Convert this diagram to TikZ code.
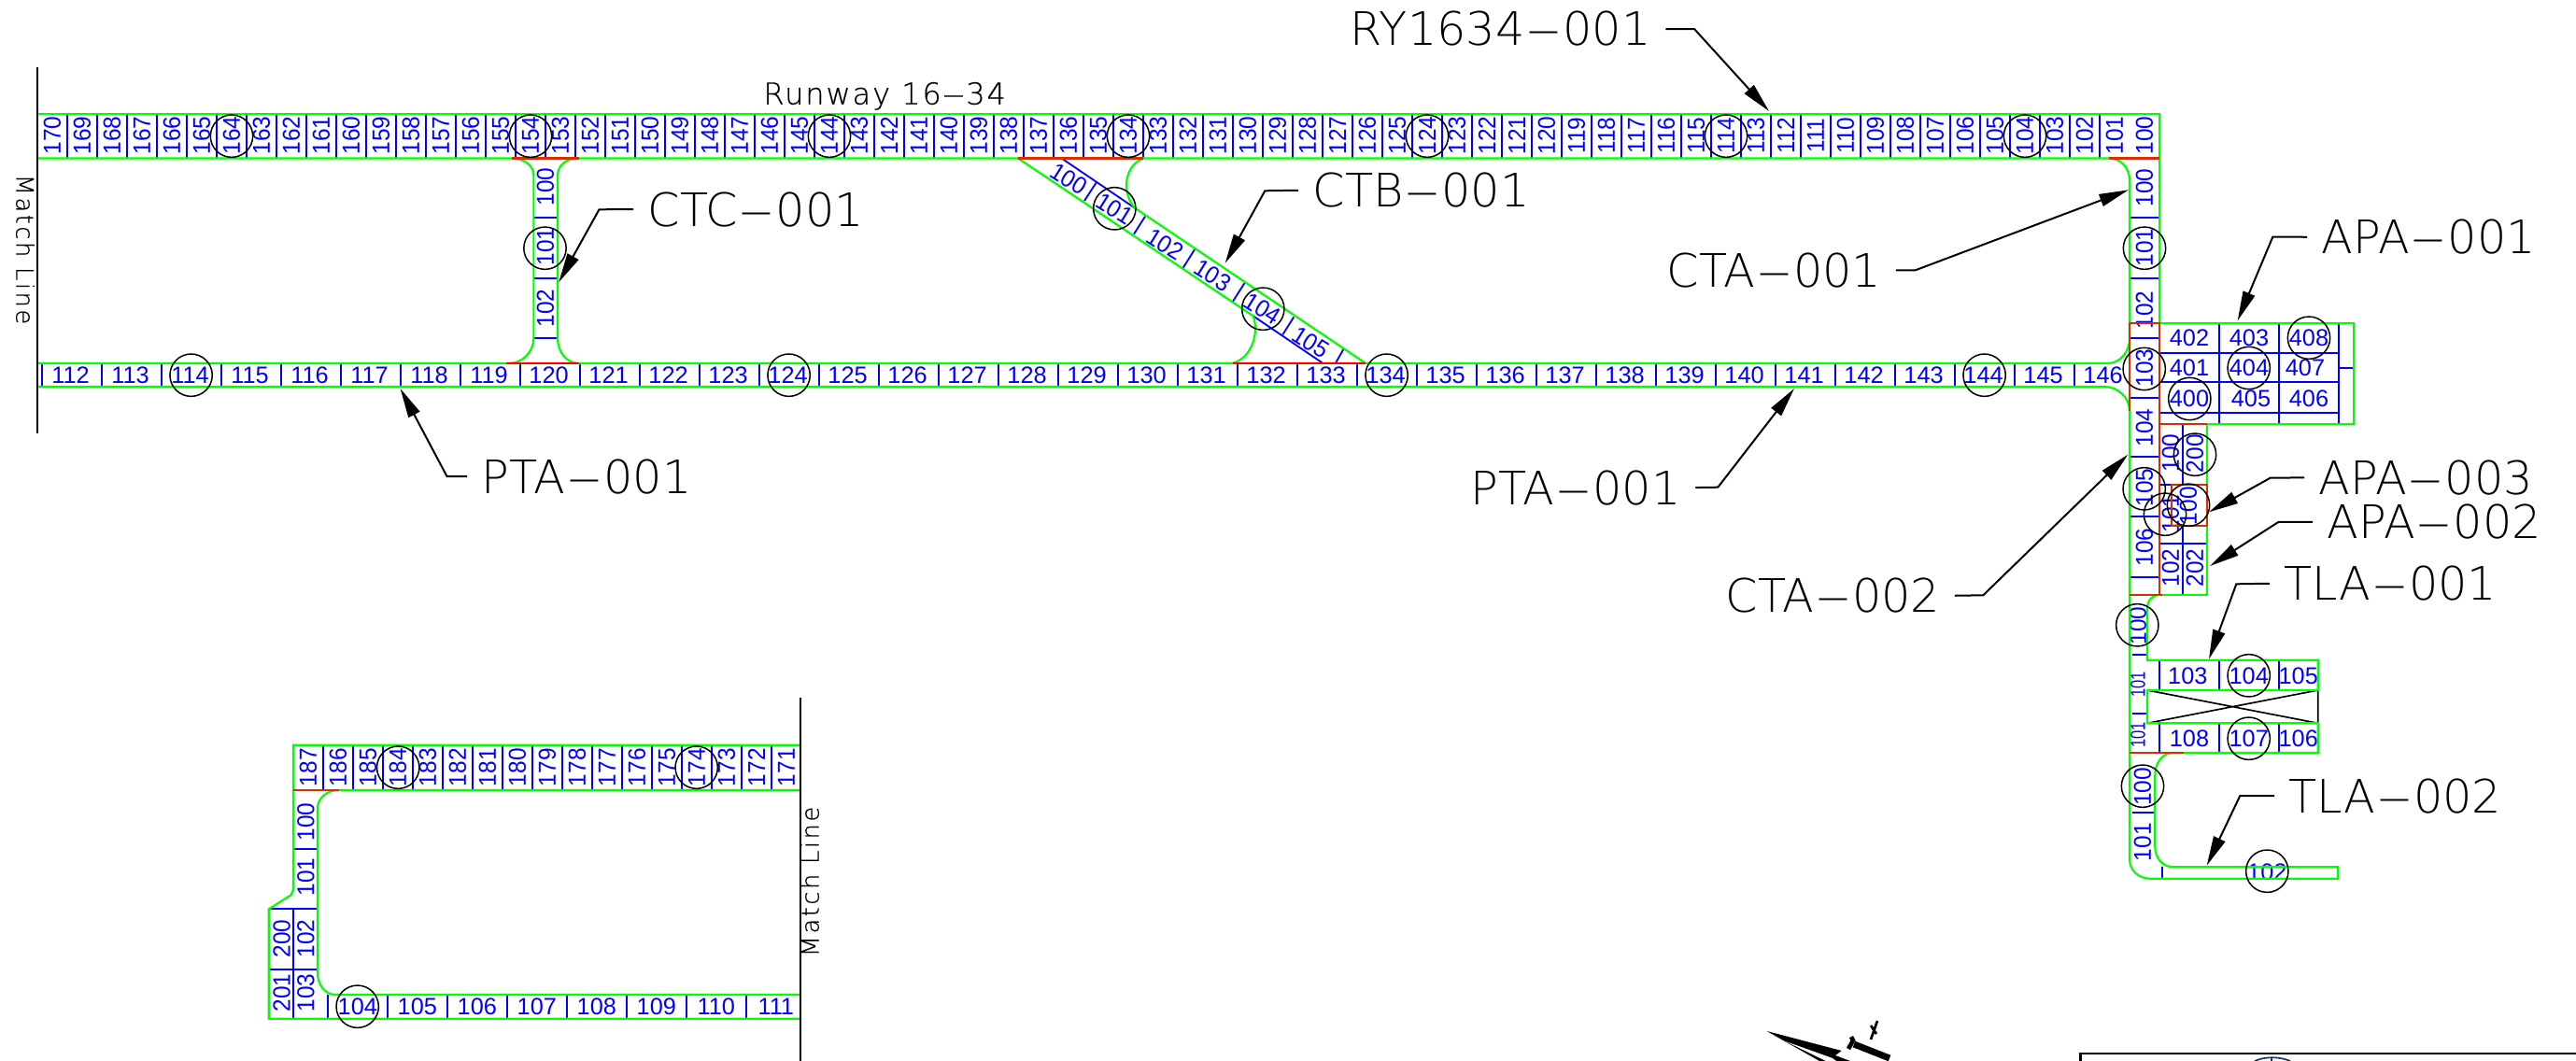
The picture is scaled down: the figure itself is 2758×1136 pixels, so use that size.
\documentclass[tikz,border=0pt]{standalone}
\usepackage{fontspec}
\usetikzlibrary{arrows.meta}
\setmainfont{Liberation Sans}
\newfontfamily\calloutfont{DejaVu Sans ExtraLight}
\newfontfamily\notefont[LetterSpace=10,FakeBold=.4]{DejaVu Sans ExtraLight}
\newfontfamily\runwayfont[LetterSpace=6,FakeBold=.4]{DejaVu Sans ExtraLight}
\newfontfamily\cellfont{Liberation Sans}
\newfontfamily\cellrfont[FakeStretch=.94]{Liberation Sans}
\newfontfamily\celltfont[FakeStretch=.74]{Liberation Sans}
\newcommand{\longdash}{\scalebox{2.3}[1]{-}}
\definecolor{pavegreen}{HTML}{00FF00}
\definecolor{cellblue}{HTML}{0000FF}
\definecolor{seamred}{HTML}{FF0000}
\definecolor{seamdark}{HTML}{D43000}
\definecolor{sealnavy}{HTML}{1A2F6B}

\begin{document}
\begin{tikzpicture}[%
	x=.3pt,y=-.3pt,
	outline/.style={draw=pavegreen,line width=.65pt},
	tick/.style={draw=cellblue,line width=.55pt},
	seam/.style={draw=seamdark,line width=.65pt},
	seamlight/.style={draw=seamred,line width=.65pt},
	cellnum/.style={text=cellblue,inner sep=0pt,font=\fontsize{7.6}{8}\cellfont},
	cellup/.style={text=cellblue,inner sep=0pt,rotate=90,font=\fontsize{7.8}{8}\cellrfont},
	cellslant/.style={text=cellblue,inner sep=0pt,rotate=-32,font=\fontsize{7.8}{8}\cellrfont},
	celltiny/.style={cellup,font=\fontsize{6.7}{7}\celltfont},
	bubble/.style={shape=circle,draw=black,line width=.45pt,minimum size=13.6pt,inner sep=0pt},
	calloutlbl/.style={inner xsep=4.5pt,inner ysep=0pt,font=\fontsize{14.8}{16}\calloutfont},
	notelbl/.style={inner sep=0pt,font=\fontsize{9.6}{11}\runwayfont},
	matchlbl/.style={inner sep=0pt,font=\fontsize{7.7}{9}\notefont},
	leader/.style={draw=black,line width=.6pt,-{Triangle[length=9.5pt,width=4pt]}},
	matchline/.style={draw=black,line width=.65pt}
	]
  \useasboundingbox (0,0) rectangle (2758,1136);

  % runway and parallel taxiway cells
  \foreach \n [evaluate=\n as \cx using 40+32*(170-\n)] in {100,...,170}
    \node [cellup] (rwy\n) at (\cx+16,145) {\n};
  \foreach \n [evaluate=\n as \cx using 40+32*(169-\n)] in {100,...,169}
    \draw [tick] (\cx,121.7) -- (\cx,169.5);
  \foreach \n [evaluate=\n as \cx using 44.6+64*(\n-112)] in {112,...,146}{
    \node [cellnum] (pta\n) at (\cx+31,401.7) {\n};
    \draw [tick] (\cx,389) -- (\cx,414);
  }

  % connectors, straight ones
  \foreach \n/\yy/\ytick in {100/200/233.3,101/264/297.7,102/330/361.7}{
    \node [cellup] (ctc\n) at (584,\yy) {\n};
    \draw [tick] (571.4,\ytick) -- (597,\ytick);
  }
  \foreach \n/\yy in {100/201,101/265,102/332,103/394,104/458,105/522,106/586}
    \node [cellup] (cta\n) at (2296,\yy) {\n};
  \foreach \yy in {233,297.7,361.7,425.7,489,553,617.7}
    \draw [tick] (2280,\yy) -- (2312,\yy);

  % slanted connector
  \foreach \n/\xx/\yy in {100/1144.3/191.7,101/1193.3/223.3,102/1247.3/261.7,103/1298.3/295,104/1351.7/330.7,105/1403.3/366.7}
    \node [cellslant] (ctb\n) at (\xx,\yy) {\n};
  \draw [tick] (1137.3,170) -- (1215,222.7);
  \draw [tick] (1341.7,338.3) -- (1416,388.7);
  \foreach \xa/\ya/\xb/\yb in {1174/195/1161/215,1226/231.7/1214/250.7,1279.3/266.7/1266.7/286.7,1332.7/302.7/1320/322.7,1385.3/339.3/1373.3/358.3,1438.3/374/1430/388.7}
    \draw [tick] (\xa,\ya) -- (\xb,\yb);

  % apron block
  \foreach \n/\xx/\yy in {402/2344/362,403/2408/362,408/2472/362,401/2344/394,404/2408/394,407/2468/394,400/2344/426.7,405/2410/426.7,406/2472/426.7}
    \node [cellnum] (apa\n) at (\xx,\yy) {\n};
  \foreach \xx in {2375.7,2440,2504}
    \draw [tick] (\xx,345.7) -- (\xx,454.3);
  \foreach \yy in {377.7,409.3,441.7}
    \draw [tick] (2312,\yy) -- (2504,\yy);
  \draw [tick] (2504,393.7) -- (2520,393.7);

  % small aprons
  \foreach \name/\n/\xx/\yy in {apb100/100/2324/485,apb200/200/2350/485.7,apb101/101/2324/550,apb300/100/2343/541.7,apb102/102/2324/608,apb202/202/2350/608}
    \node [cellup] (\name) at (\xx,\yy) {\n};
  \draw [tick] (2337.3,454.3) -- (2337.3,518.7);
  \draw [tick] (2337.3,563.3) -- (2337.3,636.7);
  \draw [tick] (2312,518.7) -- (2325,518.7);
  \draw [tick] (2312,582.3) -- (2363.3,582.3);

  % taxilanes
  \foreach \n/\xx in {103/2342.3,104/2407.7,105/2460.7}
    \node [cellnum] (tla\n) at (\xx,723.5) {\n};
  \foreach \n/\xx in {108/2344,107/2407.7,106/2460.7}
    \node [cellnum] (tla\n) at (\xx,790.7) {\n};
  \foreach \xx in {2311.7,2375.7,2440}{
    \draw [tick] (\xx,706.7) -- (\xx,739);
    \draw [tick] (\xx,774.3) -- (\xx,806);
  }
  \node [cellup] (tla100) at (2289,670) {100};
  \node [celltiny] (tlu101) at (2289,733) {101};
  \node [celltiny] (tlv101) at (2289,786.7) {101};
  \node [cellup] (tlb100) at (2294,842.3) {100};
  \node [cellup] (tlb101) at (2294,901.7) {101};
  \node [cellnum] (tlb102) at (2427.3,934) {102};
  \draw [tick] (2283,700.7) -- (2299,700.7);
  \draw [tick] (2283,764.3) -- (2299,764.3);
  \draw [tick] (2283,870) -- (2307.3,870);
  \draw [tick] (2315,928.3) -- (2315,940.7);
  \draw [draw=black,line width=.5pt] (2299,739) -- (2481.7,774.3) -- (2481.7,739) -- (2299,774.3);

  % lower left island
  \foreach \n [evaluate=\n as \cx using 314+32*(187-\n)] in {171,...,187}{
    \node [cellup] (isl\n) at (\cx+16,821.7) {\n};
    \draw [tick] (\cx,797.7) -- (\cx,846);
  }
  \foreach \n [evaluate=\n as \cx using 350.8+64*(\n-104)] in {104,...,111}{
    \node [cellnum] (isl\n) at (\cx+32,1077.7) {\n};
    \draw [tick] (\cx,1065) -- (\cx,1090.7);
  }
  \foreach \name/\n/\xx/\yy in {isu100/100/327.3/880,isu101/101/327.3/939,isu102/102/327.3/1005,isu103/103/327.3/1063,isu200/200/301.6/1005,isu201/201/301.6/1063}
    \node [cellup] (\name) at (\xx,\yy) {\n};
  \draw [tick] (314,909.3) -- (340,909.3);
  \draw [tick] (288,973.3) -- (340,973.3);
  \draw [tick] (288,1037.7) -- (340,1037.7);
  \draw [tick] (314,973.3) -- (314,1090.7);

  % pavement outlines
  \draw [outline] (40,121.7) -- (2312,121.7) -- (2312,345.7);
  \draw [outline] (40,169.5) -- (2258,169.5) .. controls (2271,169.5) and (2280,180) .. (2280,193) -- (2280,363)
	.. controls (2280,376) and (2270,389) .. (2257,389) -- (40,389);
  \draw [outline] (40,414) -- (2253,414) .. controls (2268,414) and (2280,426) .. (2280,440) -- (2280,920)
	.. controls (2280,932) and (2290,940.7) .. (2301.7,940.7) -- (2503.3,940.7) -- (2503.3,928.3) -- (2326.7,928.3)
	.. controls (2315,928.3) and (2307.3,918) .. (2307.3,906.7) -- (2307.3,830)
	.. controls (2307.3,817) and (2315,806) .. (2326.7,806) -- (2481.7,806) -- (2481.7,774.3) -- (2299,774.3) -- (2299,739)
	-- (2481.7,739) -- (2481.7,706.7) -- (2299,706.7) -- (2299,650) .. controls (2299,643) and (2304,637.5) .. (2312,636.7);
  \draw [outline] (2312,345.7) rectangle (2520,454.3);
  \draw [outline] (2363.3,454.3) -- (2363.3,636.7) -- (2312,636.7);
  \draw [outline] (548,169.5) .. controls (561,169.5) and (571.4,177) .. (571.4,188) -- (571.4,361.7) .. controls (571.4,376) and (560,389) .. (545,389);
  \draw [outline] (619.6,169.5) .. controls (606,169.5) and (597,177) .. (597,188) -- (597,361.7) .. controls (597,376) and (606,389) .. (619.6,389);
  \draw [outline] (1090,169.5) -- (1341.7,338.3) .. controls (1348.3,356.7) and (1340,383.3) .. (1320,388.7);
  \draw [outline] (1224,170) .. controls (1206.7,175) and (1198.3,203.3) .. (1215,222.7) -- (1461.7,388.7);
  \draw [outline] (857,797.7) -- (314,797.7) -- (314,950) .. controls (314,954) and (313,956) .. (311.5,958.3) -- (287.8,973.3) -- (287.8,1090.7) -- (857,1090.7);
  \draw [outline] (857,846) -- (362,846) .. controls (350,846) and (340,855) .. (340,865) -- (340,1041.7) .. controls (340,1054) and (348,1065) .. (359,1065) -- (857,1065);

  % joints
  \draw [seam] (548,169.5) -- (619.6,169.5);
  \draw [seam] (1090,169.5) -- (1224,169.5);
  \draw [seam] (2258,169.5) -- (2312,169.5);
  \draw [seamlight] (541.5,389) -- (619.6,389);
  \draw [seamlight] (1320,388.7) -- (1461.7,388.7);
  \draw [seam] (2280,363) -- (2280,345.7) -- (2312,345.7) -- (2312,636.7);
  \draw [seam] (2280,363) -- (2280,440);
  \draw [seam] (2312,454.3) -- (2363.3,454.3);
  \draw [seam] (2324.7,518.7) rectangle (2363.3,563.3);
  \draw [seam] (2280,636.7) -- (2315,636.7);
  \draw [seam] (2280,805.7) -- (2338.3,805.7);
  \draw [seam] (314,846) -- (362.5,846);

  % detail bubbles
  \foreach \n [evaluate=\n as \cx using 40+32*(170-\n)+16] in {104,114,...,164}
    \node [bubble] (rwyb\n) at (\cx,145.7) {};
  \foreach \n [evaluate=\n as \cx using 44.6+64*(\n-112)+32] in {114,124,134,144}
    \node [bubble] (ptab\n) at (\cx,401.7) {};
  \foreach \name/\xx/\yy in {ctcb/583.5/265.7,ctba/1193.3/223.3,ctbb/1352.3/330.7,ctaa/2296/265.7,ctab/2295.7/395,ctac/2295.7/523.3,
	apaa/2472/361.7,apab/2407.7/394,apac/2344.3/427,apba/2350/486.7,apbb/2343/540.7,apbc/2318/550.7,
	tlaa/2288.3/669.3,tlab/2407.7/723.3,tlac/2407.7/790.7,tlba/2294/841.7,tlbb/2427.3/932.7,
	isla/426.2/821.7,islb/745.7/821.7,islc/382.7/1077.7}
    \node [bubble] (\name) at (\xx,\yy) {};

  % callouts
  \foreach \name/\lbl/\lx/\ly/\side/\elx/\ely/\tipx/\tipy in {
	ryc/RY1634\longdash 001/1430/49/east/1814/31/1894/119,
	ctcc/CTC\longdash 001/678/242/west/641.5/224.3/598.2/302.3,
	ctbc/CTB\longdash 001/1390/221.7/west/1354.3/204.3/1311.7/281.7,
	ctac/CTA\longdash 001/1769/307.3/east/2050.7/289.3/2279/203.3,
	ctad/CTA\longdash 002/1832/655.7/east/2123.3/637.3/2278.3/486.7,
	ptal/PTA\longdash 001/500/528/west/478.5/510/428.6/416,
	ptar/PTA\longdash 001/1559/540/east/1839.3/521.7/1921/416,
	apaa/APA\longdash 001/2470/271.7/west/2433.3/253.7/2395.7/343.3,
	apac/APA\longdash 003/2467/529.3/west/2430.7/511.7/2365/548.3,
	apab/APA\longdash 002/2476/576.7/west/2439.3/559/2366/606,
	tlaa/TLA\longdash 001/2430/642.7/west/2394.3/625.3/2365/705.7,
	tlbb/TLA\longdash 002/2435/870/west/2398.3/852/2362.7/926.7}{
    \node [calloutlbl,anchor=base west] (\name lbl) at (\lx,\ly) {\lbl};
    \coordinate (\name elbow) at (\elx,\ely);
    \coordinate (\name tip) at (\tipx,\tipy);
    \draw [leader] (\name lbl.\side) -- (\name elbow) -- (\name tip);
  }

  % notes and match lines
  \node [notelbl,anchor=base west] (rwylbl) at (816.7,111.7) {Runway 16\longdash 34};
  \node [matchlbl,rotate=-90] (matcha) at (27,267) {Match Line};
  \node [matchlbl,rotate=90] (matchb) at (867,944) {Match Line};
  \draw [matchline] (40,72) -- (40,464);
  \draw [matchline] (857,747) -- (857,1136);

  % north arrow, cut by the page
  \fill (1891.7,1104) -- (1971.7,1125) -- (1965,1130) -- (1981,1136) -- (1948,1136) -- cycle;
  \fill [white] (1911.7,1115) -- (1962,1133) -- (1966,1136) -- (1955,1136) -- cycle;
  \draw [line width=2.1pt] (1985,1118) -- (2023,1133);
  \draw [line width=1.4pt] (1982,1110) -- (1984,1114) -- (1979,1123);
  \draw [line width=.8pt] (2010,1093) -- (2003,1113);
  \draw [line width=.8pt] (2003,1098) -- (2009,1107);

  % title block corner
  \draw [line width=.65pt] (2227.5,1136) -- (2227.5,1128.3) -- (2758,1128.3);
  \draw [draw=sealnavy,line width=.5pt] (2414,1136) .. controls (2425,1131) and (2440,1131) .. (2452,1136);
  \draw [draw=sealnavy,line width=.5pt] (2432,1132) -- (2432,1136);
\end{tikzpicture}
\end{document}
